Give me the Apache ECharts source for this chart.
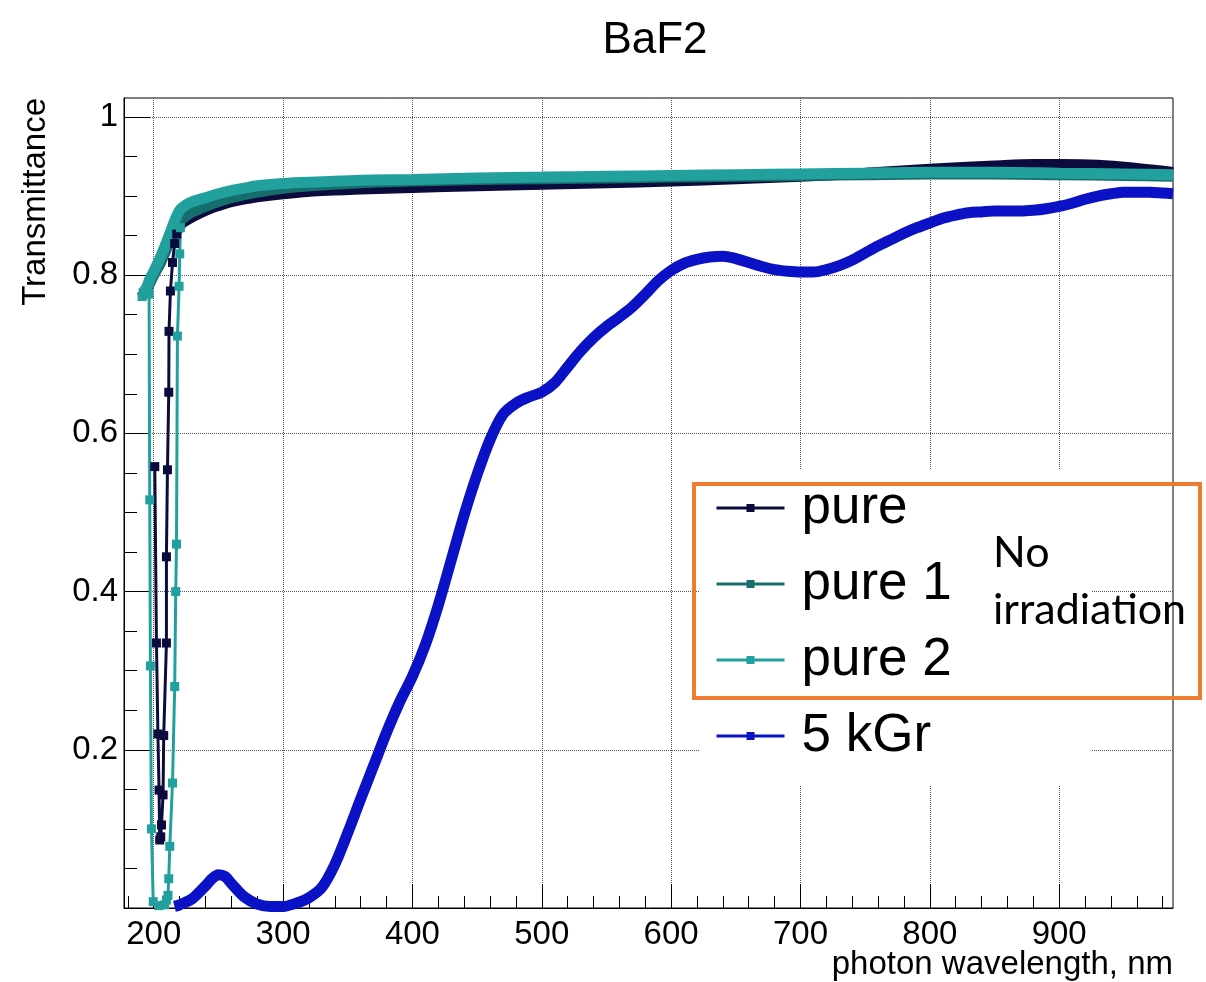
<!DOCTYPE html>
<html>
<head>
<meta charset="utf-8">
<script src="https://cdn.jsdelivr.net/npm/echarts@6/dist/echarts.min.js"></script>
<style>html,body{margin:0;padding:0;background:#fff;}#c{width:1206px;height:982px;}</style>
</head>
<body>
<div id="c"></div>
<script>
// ---------- data (wavelength nm, transmittance) ----------
const TITLE = 'BaF2';
const X_TITLE = 'photon wavelength, nm';
const Y_TITLE = 'Transmittance';
const SERIES_NAMES = ['pure', 'pure 1', 'pure 2', '5 kGr'];
const X_MAJOR = [200, 300, 400, 500, 600, 700, 800, 900];
const X_MINOR = [180, 220, 240, 260, 280, 320, 340, 360, 380, 420, 440, 460, 480, 520, 540, 560, 580,
                 620, 640, 660, 680, 720, 740, 760, 780, 820, 840, 860, 880, 920, 940, 960, 980];
const Y_MAJOR = [0, 0.2, 0.4, 0.6, 0.8, 1];
const Y_LABELS = [0.2, 0.4, 0.6, 0.8, 1];
const Y_MINOR = [0.05, 0.1, 0.15, 0.25, 0.3, 0.35, 0.45, 0.5, 0.55, 0.65, 0.7, 0.75, 0.85, 0.9, 0.95, 1.0];
const NOTE_LINES = ['No', 'irradiation'];

// pure: main (upper) curve and the absorption-edge dip
const pureMain = [[218,0.856],[222,0.866],[230,0.874],[240,0.882],[250,0.888],[260,0.893],[280,0.899],[300,0.903],
  [330,0.907],[360,0.909],[400,0.911],[450,0.913],[500,0.915],[550,0.917],[600,0.919],[650,0.922],[700,0.925],
  [750,0.929],[800,0.934],[850,0.938],[880,0.940],[900,0.940],[930,0.939],[960,0.935],[988,0.930]];
const pureDip = [[200.8,0.558],[202.1,0.335],[203.2,0.22],[204.1,0.149],[204.6,0.086],[205.4,0.09],[206,0.105],
  [207.2,0.143],[207.7,0.218],[209.8,0.335],[209.8,0.444],[210.6,0.554],[211.6,0.652],[211.8,0.729],[212.9,0.78],
  [214.5,0.816],[216.2,0.84],[217.8,0.852]];

// pure 1
const pure1Main = [[190,0.772],[194,0.780],[197,0.790],[201,0.803],[205,0.815],[209,0.830],[213,0.845],[217,0.860],
  [220,0.868],[225,0.875],[230,0.880],[240,0.887],[250,0.893],[260,0.898],[280,0.905],[300,0.910],[330,0.914],
  [360,0.917],[400,0.919],[450,0.921],[500,0.922],[550,0.923],[600,0.924],[650,0.925],[700,0.926],[750,0.927],
  [800,0.928],[850,0.928],[900,0.927],[950,0.926],[988,0.925]];

// pure 2: main curve and dip
const pure2Main = [[191,0.777],[194,0.783],[197,0.795],[201,0.808],[205,0.822],[209,0.838],[213,0.855],[217,0.872],
  [220,0.882],[225,0.889],[230,0.893],[240,0.898],[250,0.903],[260,0.907],[270,0.910],[280,0.913],[300,0.916],
  [330,0.918],[360,0.920],[400,0.921],[450,0.923],[500,0.924],[550,0.925],[600,0.926],[650,0.927],[700,0.928],
  [750,0.929],[800,0.930],[850,0.930],[900,0.929],[950,0.928],[988,0.927]];
const pure2Dip = [[191,0.773],[196.4,0.776],[196.9,0.516],[197.4,0.306],[198.2,0.1],[199.6,0.008],[204,0.003],
  [208.5,0.004],[209.8,0.01],[211,0.016],[211.6,0.037],[212.4,0.078],[214.5,0.158],[216.2,0.28],[217,0.40],
  [217.6,0.46],[218.3,0.723],[219.6,0.786],[220.1,0.827],[220.6,0.86]];

// 5 kGr
const kGr5 = [[216,0.002],[220,0.004],[230,0.012],[240,0.028],[245,0.037],[250,0.042],[255,0.040],[260,0.031],
  [270,0.014],[280,0.005],[290,0.002],[300,0.002],[310,0.006],[320,0.013],[330,0.026],[340,0.055],[350,0.095],
  [360,0.138],[370,0.180],[380,0.222],[390,0.260],[400,0.293],[410,0.333],[420,0.383],[430,0.440],[440,0.497],
  [450,0.548],[460,0.592],[470,0.624],[480,0.638],[490,0.646],[500,0.652],[510,0.664],[520,0.684],[530,0.704],
  [540,0.721],[550,0.735],[560,0.747],[570,0.760],[580,0.776],[590,0.793],[600,0.806],[610,0.815],[620,0.820],
  [630,0.823],[640,0.824],[650,0.821],[660,0.816],[670,0.811],[680,0.807],[690,0.805],[700,0.804],[710,0.804],
  [720,0.807],[730,0.812],[740,0.819],[750,0.828],[760,0.837],[770,0.845],[780,0.853],[790,0.860],[800,0.866],
  [810,0.872],[820,0.876],[830,0.879],[840,0.880],[850,0.881],[860,0.881],[870,0.881],[880,0.882],[890,0.884],
  [900,0.887],[910,0.891],[920,0.896],[930,0.900],[940,0.903],[950,0.905],[960,0.905],[970,0.905],[980,0.904],
  [988,0.903]];

// ---------- styling ----------
const COLORS = {'pure':'#0b0b3d','pure 1':'#166e6c','pure 2':'#22a09d','5 kGr':'#0b12c6'};
const FONT = 'Liberation Sans, Arial, sans-serif';

function bandSeries(name, data) {
  return {
    name: name, type: 'line', data: data, xAxisIndex: 0, yAxisIndex: 0,
    symbol: 'rect', symbolSize: 9, showSymbol: false, smooth: 0.3,
    lineStyle: {width: 11, color: COLORS[name]}, itemStyle: {color: COLORS[name]},
    emphasis: {disabled: true}, animation: false
  };
}
function dipSeries(name, data) {
  return {
    name: name, type: 'line', data: data, xAxisIndex: 0, yAxisIndex: 0,
    symbol: 'rect', symbolSize: 9, showSymbol: true, showAllSymbol: true,
    lineStyle: {width: 3, color: COLORS[name]}, itemStyle: {color: COLORS[name]},
    emphasis: {disabled: true}, animation: false
  };
}

const chart = echarts.init(document.getElementById('c'), null, {renderer: 'canvas'});
chart.setOption({
  animation: false,
  backgroundColor: '#fff',
  title: {
    text: TITLE, left: 650, top: 14, textAlign: 'center',
    textStyle: {fontSize: 44, fontWeight: 'normal', fontFamily: FONT, color: '#000'}
  },
  grid: {left: 124, right: 33, top: 98, bottom: 74, show: true, borderColor: '#000', borderWidth: 1,
         backgroundColor: 'transparent', containLabel: false, outerBoundsMode: 'none'},
  legend: {
    data: SERIES_NAMES, orient: 'vertical', left: 700, top: 470,
    padding: [8, 140, 19, 15], backgroundColor: '#fff',
    itemWidth: 68, itemHeight: 10, itemGap: 16,
    lineStyle: {width: 3},
    textStyle: {fontSize: 53, fontFamily: FONT, color: '#000', lineHeight: 60, padding: [0, 0, 0, 12]},
    selectedMode: false
  },
  xAxis: [
    {
      type: 'value', min: 177, max: 988, position: 'bottom',
      axisLine: {show: true, onZero: false, lineStyle: {color: '#000', width: 1}},
      axisTick: {show: true, inside: true, length: 24, customValues: X_MAJOR, lineStyle: {color: '#000', width: 1}},
      axisLabel: {show: true, customValues: X_MAJOR, fontSize: 33, fontFamily: FONT, color: '#000', margin: 10},
      splitLine: {show: true, lineStyle: {type: 'dotted', color: '#555', width: 1}}
    },
    {
      type: 'value', min: 177, max: 988, position: 'bottom',
      axisLine: {show: false, onZero: false},
      axisTick: {show: true, inside: true, length: 12, customValues: X_MINOR, lineStyle: {color: '#000', width: 1}},
      axisLabel: {show: false},
      splitLine: {show: false}
    }
  ],
  yAxis: [
    {
      type: 'value', min: 0, max: 1.024, position: 'left',
      axisLine: {show: true, onZero: false, lineStyle: {color: '#000', width: 1}},
      axisTick: {show: true, inside: true, length: 26, customValues: Y_MAJOR, lineStyle: {color: '#000', width: 1}},
      axisLabel: {show: true, customValues: Y_LABELS, fontSize: 33, fontFamily: FONT, color: '#000', margin: 6},
      splitLine: {show: true, lineStyle: {type: 'dotted', color: '#555', width: 1}}
    },
    {
      type: 'value', min: 0, max: 1.024, position: 'left',
      axisLine: {show: false, onZero: false},
      axisTick: {show: true, inside: true, length: 13, customValues: Y_MINOR, lineStyle: {color: '#000', width: 1}},
      axisLabel: {show: false},
      splitLine: {show: false}
    }
  ],
  graphic: [
    {type: 'text', x: 36, y: 98, rotation: Math.PI / 2, z: 100,
     style: {text: Y_TITLE, font: '33px ' + FONT, fill: '#000', align: 'right', verticalAlign: 'middle'}},
    {type: 'text', x: 1173, y: 965, z: 100,
     style: {text: X_TITLE, font: '33px ' + FONT, fill: '#000', align: 'right', verticalAlign: 'middle'}},
    {type: 'rect', z: 100, shape: {x: 694, y: 484, width: 506, height: 214},
     style: {fill: 'none', stroke: '#ED7D31', lineWidth: 4}},
    {type: 'text', x: 993, y: 553, z: 101,
     style: {text: NOTE_LINES[0], font: '43px Lato, "Open Sans", sans-serif', fill: '#000', align: 'left', verticalAlign: 'middle'}},
    {type: 'text', x: 993, y: 610, z: 101,
     style: {text: NOTE_LINES[1], font: '43px Lato, "Open Sans", sans-serif', fill: '#000', align: 'left', verticalAlign: 'middle'}}
  ],
  series: [
    bandSeries('pure', pureMain),
    dipSeries('pure', pureDip),
    bandSeries('pure 1', pure1Main),
    bandSeries('pure 2', pure2Main),
    dipSeries('pure 2', pure2Dip),
    bandSeries('5 kGr', kGr5)
  ]
});
</script>
</body>
</html>
